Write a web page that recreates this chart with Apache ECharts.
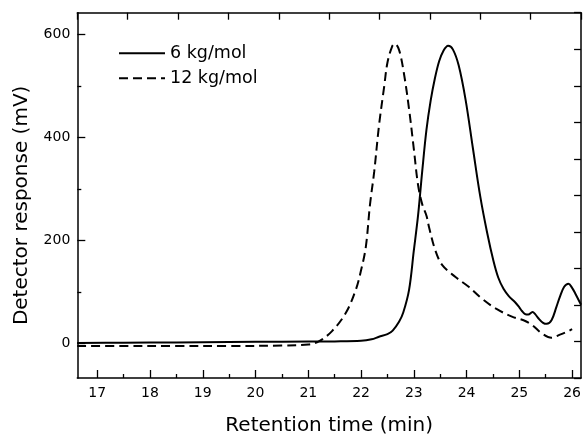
<!DOCTYPE html>
<html>
<head>
<meta charset="utf-8">
<script src="https://cdn.jsdelivr.net/npm/echarts@6/dist/echarts.min.js"></script>
<style>
html,body{margin:0;padding:0;background:#fff;}
#chart{width:584px;height:441px;}
</style>
</head>
<body>
<div id="chart"></div>
<script>
// ---- data (retention time in min, detector response in mV) ----
const seriesNames = ['6 kg/mol', '12 kg/mol'];
const solidTime = [16.62, 17.5, 18.5, 19.5, 20.5, 21.5, 22.0, 22.2, 22.34, 22.5, 22.6, 22.72, 22.8, 22.91, 23.0, 23.08, 23.16, 23.24, 23.32, 23.4, 23.48, 23.56, 23.65, 23.74, 23.85, 23.98, 24.12, 24.26, 24.39, 24.51, 24.6, 24.7, 24.8, 24.92, 25.0, 25.05, 25.11, 25.17, 25.25, 25.3, 25.36, 25.45, 25.52, 25.61, 25.7, 25.77, 25.85, 25.93, 26.0, 26.06, 26.17];
const solidValue = [1, 1.5, 2, 3, 3.5, 4, 5, 8, 13, 18, 25, 42, 60, 104, 180, 248, 335, 415, 472, 515, 548, 568, 578, 571, 540, 474, 379, 285, 215, 160, 128, 106, 92, 80, 70, 63, 57, 56, 61, 57, 49, 40, 38, 45, 70, 91, 110, 116, 108, 97, 75];
const dashTime = [16.62, 17.5, 18.5, 19.5, 20.5, 21.0, 21.2, 21.45, 21.71, 21.9, 22.0, 22.09, 22.17, 22.25, 22.34, 22.44, 22.5, 22.59, 22.64, 22.72, 22.81, 22.91, 23.0, 23.08, 23.16, 23.24, 23.29, 23.41, 23.54, 23.79, 24.04, 24.29, 24.55, 24.86, 25.08, 25.24, 25.42, 25.61, 25.77, 25.93, 26.0];
const dashValue = [-5, -5, -5, -5, -4, -2, 4, 24, 59, 104, 142, 187, 270, 334, 423, 500, 545, 577, 582, 570, 526, 455, 378, 308, 270, 248, 225, 180, 152, 129, 110, 87, 68, 52, 45, 36, 20, 11, 17, 24, 28];
const xMajorTicks = [17, 18, 19, 20, 21, 22, 23, 24, 25, 26];
const xMinorTicks = [17.5, 18.5, 19.5, 20.5, 21.5, 22.5, 23.5, 24.5, 25.5];
const yMajorTicks = [0, 200, 400, 600];
const yMinorTicks = [100, 300, 500];
const xTitle = 'Retention time (min)';
const yTitle = 'Detector response (mV)';

const FONT = '"DejaVu Sans", "Liberation Sans", Arial, sans-serif';
const pair = (xs, ys) => xs.map((x, i) => [x, ys[i]]);
const X_MIN = 16.622, X_MAX = 26.17, Y_MIN = -67.1, Y_MAX = 642.2;
const axisLine = {show: true, onZero: false, lineStyle: {color: '#000', width: 1.5}};
const noLine = {show: false, onZero: false};
const tickStyle = {color: '#000', width: 1.3};

const chart = echarts.init(document.getElementById('chart'), null, {renderer: 'canvas'});
chart.setOption({
  animation: false,
  backgroundColor: '#fff',
  grid: {left: 77.3, right: 1.5, top: 12.7, bottom: 58.7, containLabel: false},
  legend: {
    orient: 'vertical', left: 113, top: 39.2,
    itemWidth: 46, itemHeight: 14, itemGap: 7,
    data: seriesNames,
    itemStyle: {opacity: 0},
    textStyle: {fontFamily: FONT, fontSize: 17.5, color: '#000', lineHeight: 17}
  },
  xAxis: [
    {type: 'value', min: X_MIN, max: X_MAX, position: 'bottom',
     axisLine: axisLine,
     axisTick: {show: true, inside: true, length: 8, customValues: xMajorTicks, lineStyle: tickStyle},
     axisLabel: {show: true, customValues: xMajorTicks, margin: 8, fontFamily: FONT, fontSize: 14, color: '#000'},
     splitLine: {show: false},
     name: xTitle, nameLocation: 'middle', nameGap: 38,
     nameTextStyle: {fontFamily: FONT, fontSize: 20, color: '#000'}},
    {type: 'value', min: X_MIN, max: X_MAX, position: 'bottom',
     axisLine: noLine,
     axisTick: {show: true, inside: true, length: 4, customValues: xMinorTicks, lineStyle: tickStyle},
     axisLabel: {show: false}, splitLine: {show: false}},
    {type: 'value', min: 0, max: 10, interval: 1, position: 'top',
     axisLine: axisLine,
     axisTick: {show: true, inside: true, length: 7, lineStyle: tickStyle},
     axisLabel: {show: false}, splitLine: {show: false}}
  ],
  yAxis: [
    {type: 'value', min: Y_MIN, max: Y_MAX, position: 'left',
     axisLine: axisLine,
     axisTick: {show: true, inside: true, length: 8, customValues: yMajorTicks, lineStyle: tickStyle},
     axisLabel: {show: true, customValues: yMajorTicks, margin: 7, fontFamily: FONT, fontSize: 14, color: '#000'},
     splitLine: {show: false},
     name: yTitle, nameLocation: 'middle', nameGap: 46,
     nameTextStyle: {fontFamily: FONT, fontSize: 20, color: '#000', padding: [0, 20, 0, 0]}},
    {type: 'value', min: Y_MIN, max: Y_MAX, position: 'left',
     axisLine: noLine,
     axisTick: {show: true, inside: true, length: 4, customValues: yMinorTicks, lineStyle: tickStyle},
     axisLabel: {show: false}, splitLine: {show: false}},
    {type: 'value', min: 0, max: 10, interval: 1, position: 'right',
     axisLine: axisLine,
     axisTick: {show: true, inside: true, length: 7, lineStyle: tickStyle},
     axisLabel: {show: false}, splitLine: {show: false}}
  ],
  series: [
    {name: seriesNames[0], type: 'line', xAxisIndex: 0, yAxisIndex: 0,
     data: pair(solidTime, solidValue), showSymbol: false, symbol: 'none', smooth: 0.35,
     lineStyle: {color: '#000', width: 2, type: 'solid'}, itemStyle: {color: '#000'}},
    {name: seriesNames[1], type: 'line', xAxisIndex: 0, yAxisIndex: 0,
     data: pair(dashTime, dashValue), showSymbol: false, symbol: 'none', smooth: 0.35,
     lineStyle: {color: '#000', width: 2, type: [9, 5]}, itemStyle: {color: '#000'}}
  ]
});
</script>
</body>
</html>
